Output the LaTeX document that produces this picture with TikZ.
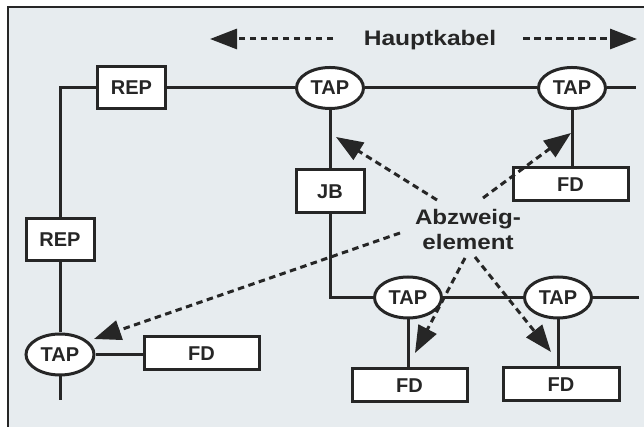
\documentclass[tikz,border=0pt]{standalone}
\usepackage{fontspec}
\usepackage{graphicx}
\setmainfont{Liberation Sans}
\usetikzlibrary{arrows.meta,shapes.geometric}
\definecolor{bgc}{HTML}{E7ECEF}
\definecolor{ink}{HTML}{262626}
\tikzset{
  box/.style={draw=ink, line width=3pt, fill=white, minimum width=68pt, minimum height=42pt, inner sep=0pt, font=\bfseries\fontsize{20}{24}\selectfont, text=ink},
  fdbox/.style={box, minimum width=115pt, minimum height=33pt},
  tapnode/.style={ellipse, draw=ink, line width=3pt, fill=white, minimum width=67pt, minimum height=41pt, inner sep=0pt, font=\bfseries\fontsize{20}{24}\selectfont, text=ink},
  wire/.style={draw=ink, line width=3pt},
  pointer/.style={draw=ink, line width=3pt, dash pattern=on 6.5pt off 4.5pt, -{Triangle[length=27pt,width=20pt]}},
  label/.style={font=\bfseries\fontsize{21}{25}\selectfont, text=ink, align=center, inner sep=0pt}
}
\begin{document}
\begin{tikzpicture}[x=1pt,y=1pt]
\useasboundingbox (0,0) rectangle (644,427);
\fill[white] (0,0) rectangle (644,427);
\fill[bgc] (8,0) rectangle (644,419.5);
\draw[ink, line width=2pt] (8,0) -- (8,419.5) -- (644,419.5);

% nodes
\node[box] (rep1) at (131.5,339) {REP};
\node[box] (rep2) at (60,187) {REP};
\node[tapnode] (tapt1) at (330,339) {TAP};
\node[tapnode] (tapt2) at (572,339) {TAP};
\node[box, minimum height=43pt] (jb) at (330,235.5) {JB};
\node[fdbox] (fdt) at (570.5,242.5) {FD};
\node[tapnode, minimum width=68pt] (tapbl) at (60,72.5) {TAP};
\node[fdbox] (fdbl) at (201.5,73.5) {FD};
\node[tapnode] (tapb1) at (408,129.5) {TAP};
\node[tapnode] (tapb2) at (558,129.5) {TAP};
\node[fdbox] (fdb1) at (409.5,41.5) {FD};
\node[fdbox, minimum width=116pt] (fdb2) at (561,42.5) {FD};

\node[label] (haupt) at (430,387) {\scalebox{1.17}[1]{Hauptkabel}};
\node[label] (abzw) at (468,198) {\scalebox{1.15}[1]{Abzweig-}\\\scalebox{1.15}[1]{element}};

% corner / end coordinates
\coordinate (ctl) at (60,339);
\coordinate (cright) at (636,339);
\coordinate (cbot) at (60,27);
\coordinate (cjb) at (330,129.5);
\coordinate (cbr) at (639,129.5);

% wires
\draw[wire] (rep1.west) -- (ctl) -- (rep2.north);
\draw[wire] (rep2.south) -- (tapbl.north);
\draw[wire] (tapbl.south) -- (cbot);
\draw[wire] (tapbl.east) -- (tapbl.east -| fdbl.west);
\draw[wire] (rep1.east) -- (tapt1.west);
\draw[wire] (tapt1.east) -- (tapt2.west);
\draw[wire] (tapt2.east) -- (cright);
\draw[wire] (tapt1.south) -- (jb.north);
\draw[wire] (jb.south) -- (cjb) -- (tapb1.west);
\draw[wire] (tapt2.south) -- (tapt2.south |- fdt.north);
\draw[wire] (tapb1.east) -- (tapb2.west);
\draw[wire] (tapb2.east) -- (cbr);
\draw[wire] (tapb1.south) -- (tapb1.south |- fdb1.north);
\draw[wire] (tapb2.south) -- (tapb2.south |- fdb2.north);

% Hauptkabel arrows
\coordinate (hl0) at (333,388);
\coordinate (hl1) at (210,388);
\coordinate (hr0) at (523,388);
\coordinate (hr1) at (637,388);
\draw[pointer] (hl0) -- (hl1);
\draw[pointer] (hr0) -- (hr1);

% Abzweig arrows
\coordinate (s1) at (437,227);
\coordinate (t1) at (336,290);
\coordinate (s2) at (483,229);
\coordinate (t2) at (571,294);
\coordinate (s3) at (400,194);
\coordinate (t3) at (94,88);
\coordinate (s4) at (465,169);
\coordinate (t4) at (415,74);
\coordinate (s5) at (475,170);
\coordinate (t5) at (551,75);
\draw[pointer] (s1) -- (t1);
\draw[pointer] (s2) -- (t2);
\draw[pointer] (s3) -- (t3);
\draw[pointer] (s4) -- (t4);
\draw[pointer] (s5) -- (t5);
\end{tikzpicture}
\end{document}
